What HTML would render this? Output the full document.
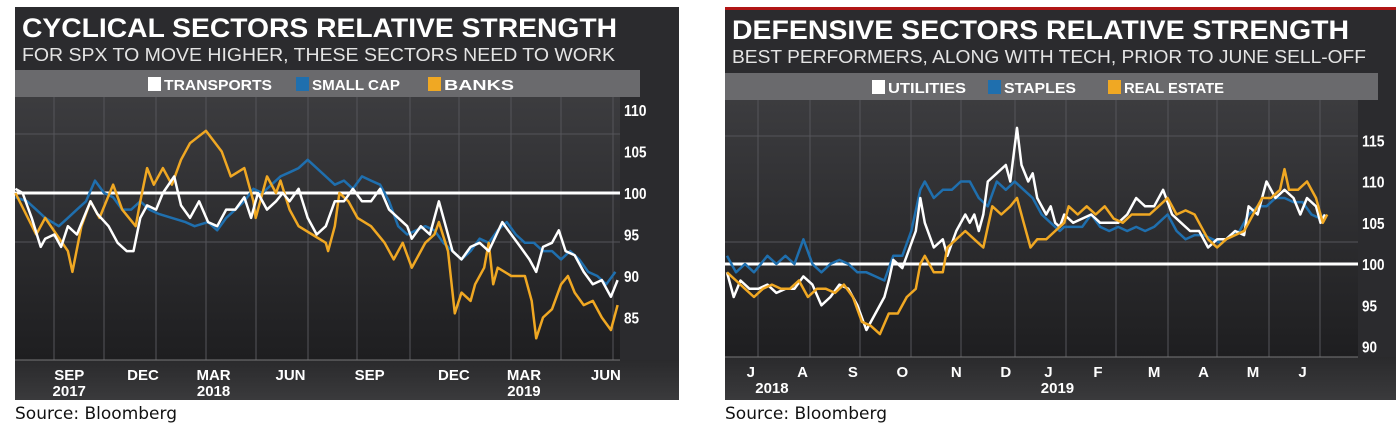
<!DOCTYPE html>
<html><head><meta charset="utf-8"><style>
html,body{margin:0;padding:0;background:#fff;width:1396px;height:431px;overflow:hidden}
svg{display:block}
</style></head><body>
<svg id="c" width="1396" height="431" xmlns="http://www.w3.org/2000/svg">
<defs>
<linearGradient id="plotg" x1="0" y1="0" x2="0" y2="1"><stop offset="0" stop-color="#3c3c3f"/><stop offset="1" stop-color="#1e1e20"/></linearGradient>
<linearGradient id="botg" x1="0" y1="0" x2="0" y2="1"><stop offset="0" stop-color="#2a2a2c"/><stop offset="1" stop-color="#3a3a3c"/></linearGradient>
</defs>
<g id="L"></g>
<g id="R"></g>
</svg>
<script>
// ---- Cyclical chart data (t = time index, Jul 2017 .. Jun 2019) ----
const banksT=[34,80,100,150,160,180,200,220,250,270,300,310,325,340,360,380,400,420,455,490,510,540,560,565,590,610,620,640,660,690,720,725,740,750,770,790,820,850,870,890,910,940,960,970,990,1005,1020,1040,1050,1070,1080,1090,1100,1130,1160,1175,1185,1200,1220,1240,1255,1270,1290,1310,1330,1350,1365];
const banksV=[100,95,97,93,90.5,96,99,97,101,98,96,99,103,101,103,101,104,106,107.5,105,102,103,99,97,102,100,101.5,98,96,95,94,93,96,100,99,97,96,94,92,94,91,94,95,96.5,93,85.5,88,87,89,91,94,89,91,90,90,87,82.5,85,86,89,90,88,86.5,87,85,83.5,86.5];
const transT=[34,50,70,90,100,120,135,150,170,185,200,215,240,260,280,295,310,325,345,360,385,400,420,440,460,480,500,520,540,555,570,590,610,625,640,660,680,700,720,740,760,780,800,820,840,860,880,900,910,930,950,970,985,1000,1020,1040,1060,1080,1110,1130,1150,1170,1185,1200,1220,1235,1250,1270,1290,1310,1330,1350,1365];
const transV=[100.5,100,97,93.5,94.5,95,93.5,96,95,97,99,97.5,96,94,93,93,97,98.5,98,100,102,98.5,97,99,96.5,96,98,98,99.5,97,100,98,99,100,99,100.5,97,95,96,99,99,100.5,99,99,100.5,98,97,96,94.5,96,95,99,96,93,92,93.5,94,93,96.5,95,93.5,92,90.5,93.5,94,95.5,93,92.5,90.5,89,89.5,87.5,89.5];
const smallT=[34,60,80,100,130,150,170,190,210,230,250,270,290,310,330,350,380,410,430,460,480,500,520,540,560,580,600,620,640,660,680,700,720,740,760,780,800,820,840,860,880,900,920,940,960,980,1000,1020,1040,1060,1080,1100,1120,1140,1160,1180,1200,1220,1240,1260,1280,1300,1320,1340,1360];
const smallV=[99.5,99,98,97,96,97,98,99,101.5,100,99.5,98,98,99,98,97.5,97,96.5,96,96.5,95.5,97,98,99,100.5,100,101,102,102.5,103,104,103,102,101,101.5,100.5,102,101.5,101,99,96,95,95.5,96,95.5,94,93,92,93,94.5,94,95.5,96.5,95,94,94,93,93,92,93,92,90.5,90,89,90.5];
const leftTicks=[85,90,95,100,105,110];
const leftMonths=["SEP","DEC","MAR","JUN","SEP","DEC","MAR","JUN"];
const leftMonthT=[153,316,472,642,817,1003,1158,1339];
const leftYears=["2017","2018","2019"];
const leftYearT=[153,472,1158];

// ---- Defensive chart data (t = time index, Jul 2018 .. Jun 2019) ----
const utilT=[60,75,90,110,130,150,170,190,210,230,250,270,290,310,330,350,370,390,410,420,430,450,460,480,490,500,520,540,550,570,590,600,610,620,630,640,660,680,690,705,715,730,740,750,770,780,790,800,810,830,850,870,890,910,930,950,970,990,1010,1030,1050,1070,1090,1110,1130,1150,1170,1190,1210,1220,1240,1260,1280,1300,1320,1335,1350,1370,1380,1390];
const utilV=[99,96,98,97,97,97.5,96.5,97,97,98.5,97.5,95,96,97.5,97,95,92,94,96,98,100.5,99.5,101,104,108,105,102,103,101,104,106,105,106,104,106,110,111,112,110,116.5,112,110,111,108,106,107,105,104.5,106,105,105.5,106,105,105,105,106,108,107,107,109,106,105,104,104,102,103,103,104,103.5,107,106,110,108,109,108,106,108,107,105,106];
const stapT=[60,80,100,120,150,170,190,210,230,250,270,290,310,330,350,370,390,410,430,450,470,490,500,520,540,560,580,600,620,640,660,680,700,720,740,760,780,800,810,830,850,870,890,910,930,950,970,990,1010,1040,1060,1080,1100,1120,1140,1160,1180,1200,1220,1240,1260,1280,1300,1320,1340,1360,1380,1390];
const stapV=[101,99,100,99,101,100,101,100,103,100,99,100,100.5,100,99,99,98.5,98,101,101,104,109,110,108,109,109,110,110,108,107,110,109,110,109,108,106,105,104,104.5,104.5,104.5,106,104.5,104,104.5,104,104.5,104,104.5,106,104,103,103.5,103.5,103,102.5,103.5,104,106,107,107,108,108,107.5,107.5,106,105.5,106];
const reT=[60,80,100,120,140,160,180,200,220,240,260,280,300,320,340,360,380,400,420,440,460,480,490,500,520,540,550,570,590,610,630,650,670,690,705,720,735,750,770,790,810,820,840,860,880,900,920,940,960,980,1000,1020,1040,1060,1080,1100,1110,1130,1150,1170,1190,1210,1230,1250,1270,1290,1300,1310,1330,1350,1370,1385,1395];
const reV=[99,98,97,96,97,97.5,97,97,98,96,97,97,96.5,97.5,96,93,92.5,91.5,94,94,96,97,100,101,99,99,102,103,104,103,102,107,106,107,108,105,102,103,103,104,105,107,106,107,106,107,105.5,105,106,106,106,107,108,106,106.5,106,105,103,102,103,103.5,104,106,108,108,109,111.5,109,109,110,108,105,106];
const rightTicks=[90,95,100,105,110,115];
const rightMonths=["J","A","S","O","N","D","J","F","M","A","M","J"];
const rightMonthT=[113,228,340,450,570,680,775,885,1010,1120,1230,1340];
const rightYears=["2018","2019"];
const rightYearT=[160,795];

const NS="http://www.w3.org/2000/svg";
function mk(parent,tag,attrs,text){const e=document.createElementNS(NS,tag);for(const k in attrs)e.setAttribute(k,attrs[k]);if(text!==undefined)e.textContent=text;parent.appendChild(e);return e;}

// axis functions
const xL=t=>t/2.21, yL=v=>193-(v-100)*8.3;
const xR=t=>700+t/2.224, yR=v=>264-(v-100)*8.25;

function pathFor(T,V,xf,yf){return T.map((t,i)=>(i?"L":"M")+xf(t).toFixed(1)+","+yf(V[i]).toFixed(1)).join(" ");}

const COND='"Liberation Sans",sans-serif';

function panel(g,o){
  let r=mk(g,"rect",{x:o.x0,y:o.top,width:o.x1-o.x0,height:400-o.top,fill:"#2b2b2e"});
  
  
  if(o.red){let rl=mk(g,"rect",{x:o.x0,y:o.top-2,width:o.x1-o.x0,height:3,fill:"#b01515"});
    
    }
  let t=mk(g,"text",{x:o.x0+7,y:o.top+30,fill:"#fff","font-family":COND,"font-weight":"bold","font-size":27,textLength:o.titleW,lengthAdjust:"spacingAndGlyphs"},o.title);
  
  
  let s=mk(g,"text",{x:o.x0+7,y:o.top+54,fill:"#e4e4e4","font-family":COND,"font-size":18,textLength:o.subW,lengthAdjust:"spacingAndGlyphs"},o.sub);
  
  
  let lb=mk(g,"rect",{x:o.x0,y:o.legY,width:o.plotR-o.x0+20,height:27,fill:"#6a6a6d"});
  
  
  o.legend.forEach(le=>{
    let sw=mk(g,"rect",{x:le.x,y:o.legY+7,width:13,height:14,fill:le.c});
    
    
    let lt=mk(g,"text",{x:le.x+16,y:o.legY+20,fill:"#fff","font-family":COND,"font-weight":"bold","font-size":15,textLength:le.w,lengthAdjust:"spacingAndGlyphs"},le.n);
    
    
  });
  let pa=mk(g,"rect",{x:o.x0,y:o.legY+27,width:o.plotR-o.x0,height:o.plotB-o.legY-27,fill:"url(#plotg)"});
  
  
  let bb=mk(g,"rect",{x:o.x0,y:o.plotB,width:o.x1-o.x0,height:400-o.plotB,fill:"url(#botg)"});
  
  
  o.vgrid.forEach(x=>{let l=mk(g,"line",{x1:x,x2:x,y1:o.legY+27,y2:o.plotB,stroke:"#55555a","stroke-width":1});
    
    });
  o.hgrid.forEach(y=>{let l=mk(g,"line",{x1:o.x0,x2:o.plotR,y1:y,y2:y,stroke:"#55555a","stroke-width":1});
    
    });
  let ax=mk(g,"line",{x1:o.x0,x2:o.plotR,y1:o.plotB,y2:o.plotB,stroke:"#777","stroke-width":1});
  
  
  o.ticks.forEach(v=>{let s=String(v);let tl=mk(g,"text",{x:o.plotR+4,y:o.yf(v)+6,fill:"#fff","font-family":COND,"font-weight":"bold","font-size":16,textLength:s.length*7.5,lengthAdjust:"spacingAndGlyphs"},s);
    
    });
  o.months.forEach((m,i)=>{let ml=mk(g,"text",{x:o.xf(o.monthT[i]),y:o.plotB+20,fill:"#fff","font-family":COND,"font-weight":"bold","font-size":15,"text-anchor":"middle"},m);
    
    });
  o.years.forEach((m,i)=>{let yl=mk(g,"text",{x:o.xf(o.yearT[i]),y:o.plotB+36,fill:"#fff","font-family":COND,"font-weight":"bold","font-size":15,"text-anchor":"middle"},m);
    
    });
  let bl=mk(g,"line",{x1:o.x0,x2:o.plotR,y1:o.yf(100),y2:o.yf(100),stroke:"#fff","stroke-width":3});
  
  
  o.series.forEach(se=>{let p=mk(g,"path",{d:pathFor(se.T,se.V,o.xf,o.yf),fill:"none",stroke:se.c,"stroke-width":2.5,"stroke-linejoin":"round"});
    
    });
  let src=mk(g,"text",{x:o.x0,y:419,fill:"#111","font-family":'"DejaVu Sans","Liberation Sans",sans-serif',"font-size":17},"Source: Bloomberg");
  
  
}

const WHITE="#ffffff",BLUE="#1f6fae",ORANGE="#f0a823";
panel(document.getElementById("L"),{x0:15,x1:679,top:7,red:false,legY:70,plotR:620,plotB:360,xf:xL,yf:yL,
  title:"CYCLICAL SECTORS RELATIVE STRENGTH",titleW:595,sub:"FOR SPX TO MOVE HIGHER, THESE SECTORS NEED TO WORK",subW:593,
  legend:[{x:148,c:WHITE,n:"TRANSPORTS",w:108},{x:296,c:BLUE,n:"SMALL CAP",w:88},{x:428,c:ORANGE,n:"BANKS",w:70}],
  vgrid:[54,104,156,206,256,308,357,410,459,511,561,613],hgrid:[134,242],
  ticks:leftTicks,months:leftMonths,monthT:leftMonthT,years:leftYears,yearT:leftYearT,
  series:[{name:"series-small-cap",T:smallT,V:smallV,c:BLUE},{name:"series-banks",T:banksT,V:banksV,c:ORANGE},{name:"series-transports",T:transT,V:transV,c:WHITE}]});
panel(document.getElementById("R"),{x0:725,x1:1396,top:9,red:true,legY:73,plotR:1358,plotB:357,xf:xR,yf:yR,
  title:"DEFENSIVE SECTORS RELATIVE STRENGTH",titleW:617,sub:"BEST PERFORMERS, ALONG WITH TECH, PRIOR TO JUNE SELL-OFF",subW:634,
  legend:[{x:872,c:WHITE,n:"UTILITIES",w:78},{x:988,c:BLUE,n:"STAPLES",w:72},{x:1108,c:ORANGE,n:"REAL ESTATE",w:100}],
  vgrid:[758,810,860,911,961,1015,1066,1116,1168,1217,1269,1320],hgrid:[136,242],
  ticks:rightTicks,months:rightMonths,monthT:rightMonthT,years:rightYears,yearT:rightYearT,
  series:[{name:"series-staples",T:stapT,V:stapV,c:BLUE},{name:"series-utilities",T:utilT,V:utilV,c:WHITE},{name:"series-real-estate",T:reT,V:reV,c:ORANGE}]});
</script>
</body></html>
